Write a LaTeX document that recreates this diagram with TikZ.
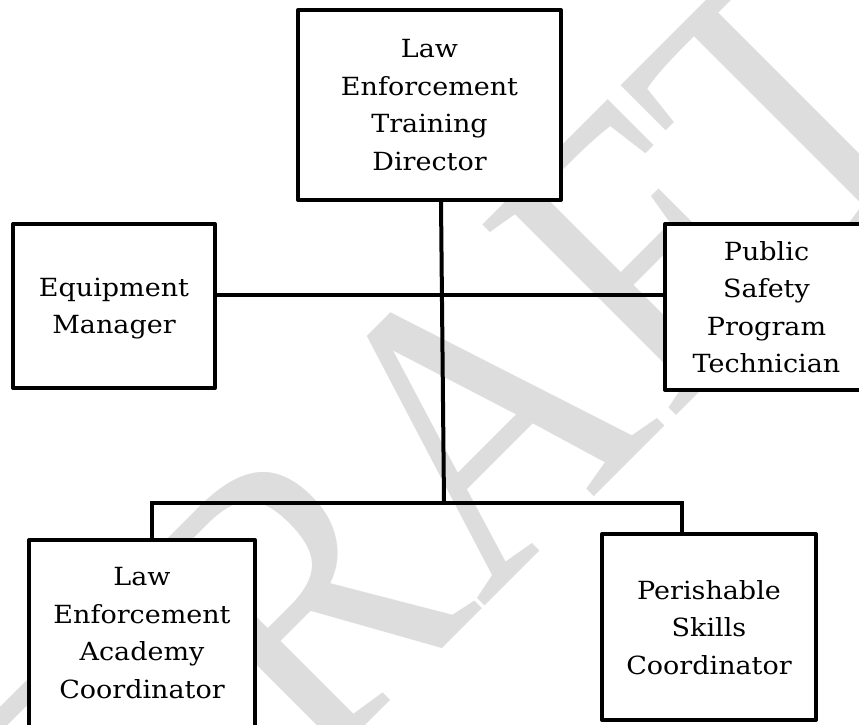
\documentclass[tikz,border=0pt]{standalone}
\usepackage{fontspec}
\setmainfont{DejaVu Serif}[FakeStretch=1.08]
\newfontfamily\wmfont{Liberation Serif}
\definecolor{wmgray}{RGB}{221,221,221}
\begin{document}
\begin{tikzpicture}[x=1pt,y=-1pt,
  box/.style={draw=black, line width=4pt, fill=white, line join=round,
    align=center, inner sep=0pt, text depth=0pt,
    font=\fontsize{25}{37.5}\selectfont},
  boxtext/.style={align=center, inner sep=0pt, text depth=0pt,
    font=\fontsize{25}{37.5}\selectfont},
  conn/.style={draw=black, line width=4pt},
  watermark/.style={rotate=45, xscale=0.87, text=wmgray, inner sep=0pt,
    font=\wmfont\fontsize{415}{415}\selectfont}]
\useasboundingbox (0,0) rectangle (859,725);

% background watermark
\node[watermark] (wm) at (450,448) {DRAFT};

% positions
\node[box, minimum width=263pt, minimum height=190pt] (director) at (429.5,105)
  {Law\\Enforcement\\Training\\Director};
\node[box, minimum width=202pt, minimum height=164pt] (equip) at (114,306)
  {Equipment\\Manager};
\node[box, minimum width=203pt, minimum height=166pt] (public) at (766.5,307)
  {Public\\Safety\\Program\\Technician};
\node[box, minimum width=226pt, minimum height=220pt] (academy) at (142,650) {};
\node[boxtext] (academytext) at (142,633)
  {Law\\Enforcement\\Academy\\Coordinator};
\node[box, minimum width=214pt, minimum height=186pt] (perish) at (709,627)
  {Perishable\\Skills\\Coordinator};

% reporting lines
\coordinate (cross) at (441,295);
\coordinate (hub) at (444,503);
\coordinate (busL) at (152,503);
\coordinate (busR) at (682,503);
\draw[conn] (equip.east |- cross) -- (public.west |- cross);
\draw[conn] (director.south -| cross) -- (hub);
\draw[conn] (academy.north -| busL) -- (busL) -- (busR) -- (perish.north -| busR);
\end{tikzpicture}
\end{document}
